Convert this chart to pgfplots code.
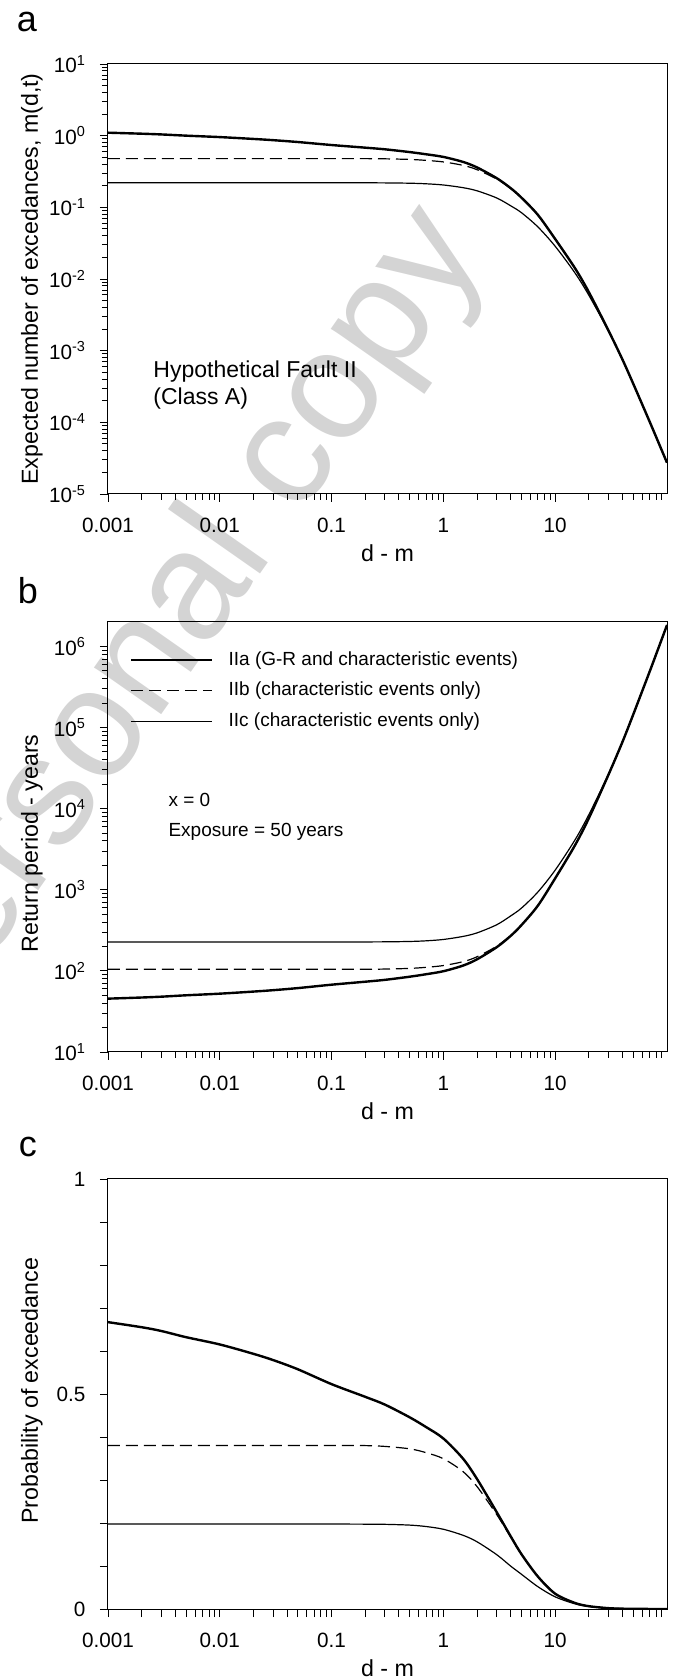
\documentclass[border=0pt]{standalone}
\usepackage{fontspec}
\setmainfont{Liberation Sans}
\usepackage{pgfplots}
\pgfplotsset{compat=1.18}

\pgfplotsset{
  every axis/.append style={
    scale only axis, width=559pt, height=430pt,
    xmode=log, log basis x=10, xmin=0.001, xmax=100,
    xtick={0.001,0.01,0.1,1,10},
    xticklabels={0.001,0.01,0.1,1,10},
    minor xtick={0.002,0.003,0.004,0.005,0.006,0.007,0.008,0.009,0.02,0.03,0.04,0.05,0.06,0.07,0.08,0.09,0.2,0.3,0.4,0.5,0.6,0.7,0.8,0.9,2,3,4,5,6,7,8,9,20,30,40,50,60,70,80,90},
    tick align=outside, xtick pos=left, ytick pos=left,
    major tick length=8pt, minor tick length=6pt,
    every tick/.style={black, line width=0.9pt},
    axis line style={line width=1pt},
    tick label style={font=\fontsize{20.7}{24}\selectfont},
    xticklabel style={yshift=-13pt},
    yticklabel style={xshift=-11pt},
    label style={font=\fontsize{23.2}{27}\selectfont},
    xlabel={d - m},
    xlabel style={at={(axis description cs:0.5,-0.137)}, anchor=center},
  },
}

\begin{document}
\begin{tikzpicture}
\useasboundingbox (0pt,0pt) rectangle (677pt,1679pt);
% watermark, one letter at a time along a slanted baseline
\begin{scope}[shift={(-76.8pt,623.8pt)}, rotate=55, transform shape,
  every node/.style={anchor=base west, inner sep=0pt, text=black!17, font=\fontsize{155}{155}\selectfont}]
\node at (0pt,0pt) {P};
\node at (103.4pt,0pt) {e};
\node at (189.6pt,0pt) {r};
\node at (241.2pt,0pt) {s};
\node at (318.7pt,0pt) {o};
\node at (404.9pt,0pt) {n};
\node at (491.0pt,0pt) {a};
\node at (577.2pt,0pt) {l};
\node at (654.7pt,0pt) {c};
\node at (732.2pt,0pt) {o};
\node at (818.4pt,0pt) {p};
\node at (904.6pt,0pt) {y};
\end{scope}

% panel letters
\node[font=\fontsize{36}{40}\selectfont] at (27pt,1657pt) {a};
\node[font=\fontsize{36}{40}\selectfont] at (28pt,1088pt) {b};
\node[font=\fontsize{36}{40}\selectfont] at (28pt,532pt) {c};

% ---------------- panel a ----------------
\begin{axis}[at={(108pt,1185pt)}, anchor=south west,
  ymode=log, log basis y=10, ymin=1e-5, ymax=10,
  ytick={1e-5,1e-4,1e-3,1e-2,1e-1,1,10},
  yticklabels={10\textsuperscript{-5},10\textsuperscript{-4},10\textsuperscript{-3},10\textsuperscript{-2},10\textsuperscript{-1},10\textsuperscript{0},10\textsuperscript{1}},
  minor ytick={2e-5,3e-5,4e-5,5e-5,6e-5,7e-5,8e-5,9e-5,2e-4,3e-4,4e-4,5e-4,6e-4,7e-4,8e-4,9e-4,0.002,0.003,0.004,0.005,0.006,0.007,0.008,0.009,0.02,0.03,0.04,0.05,0.06,0.07,0.08,0.09,0.2,0.3,0.4,0.5,0.6,0.7,0.8,0.9,2,3,4,5,6,7,8,9},
  ylabel={Expected number of excedances, m(d,t)},
  ylabel style={at={(axis description cs:-0.136,0.5)}, anchor=center},
]
\addplot[black, line width=2.4pt, smooth, tension=0.5] coordinates {(0.001,1.10) (0.002,1.065) (0.003,1.04) (0.005,1.00) (0.01,0.955) (0.02,0.90) (0.03,0.865) (0.05,0.815) (0.1,0.74) (0.2,0.68) (0.3,0.645) (0.5,0.59) (0.7,0.55) (1,0.505) (1.5,0.43) (2,0.36) (3,0.255) (4,0.185) (5,0.136) (7,0.0785) (10,0.0361) (15,0.01422) (20,0.00656) (30,0.0019) (40,7.5e-4) (50,3.43e-4) (60,1.78e-4) (70,1.02e-4) (80,6.24e-5) (100,2.73e-5)};
\addplot[black, line width=1.2pt, dash pattern=on 12pt off 6pt, smooth, tension=0.5] coordinates {(0.001,0.478) (0.01,0.478) (0.1,0.478) (0.2,0.478) (0.3,0.475) (0.5,0.466) (0.7,0.452) (1,0.43) (1.5,0.385) (2,0.335) (3,0.248) (4,0.183) (5,0.136) (7,0.0785) (10,0.0361) (15,0.01422) (20,0.00656) (30,0.0019) (40,7.5e-4) (50,3.43e-4) (60,1.78e-4) (70,1.02e-4) (80,6.24e-5) (100,2.73e-5)};
\addplot[black, line width=1.2pt, smooth, tension=0.5] coordinates {(0.001,0.22) (0.01,0.22) (0.1,0.22) (0.2,0.2198) (0.3,0.2192) (0.5,0.217) (0.7,0.213) (1,0.205) (1.5,0.188) (2,0.17) (3,0.135) (4,0.105) (5,0.084) (7,0.0533) (10,0.0286) (15,0.0122) (20,0.00593) (30,0.00187) (40,7.45e-4) (50,3.43e-4) (60,1.78e-4) (70,1.02e-4) (80,6.24e-5) (100,2.73e-5)};
\node[anchor=base west, font=\fontsize{23}{27}\selectfont] at (axis description cs:0.075,0.272) {Hypothetical Fault II};
\node[anchor=base west, font=\fontsize{23}{27}\selectfont] at (axis description cs:0.075,0.209) {(Class A)};
\end{axis}

% ---------------- panel b ----------------
\begin{axis}[at={(108pt,627pt)}, anchor=south west,
  ymode=log, log basis y=10, ymin=10, ymax=2e6,
  ytick={10,100,1000,10000,100000,1000000},
  yticklabels={10\textsuperscript{1},10\textsuperscript{2},10\textsuperscript{3},10\textsuperscript{4},10\textsuperscript{5},10\textsuperscript{6}},
  minor ytick={20,30,40,50,60,70,80,90,200,300,400,500,600,700,800,900,2000,3000,4000,5000,6000,7000,8000,9000,20000,30000,40000,50000,60000,70000,80000,90000,200000,300000,400000,500000,600000,700000,800000,900000},
  ylabel={Return period - years},
  ylabel style={at={(axis description cs:-0.136,0.485)}, anchor=center},
  legend cell align=left,
  legend image code/.code={\draw[#1] (0pt,0pt) -- (81pt,0pt); \path (96pt,0pt);},
  legend style={at={(axis description cs:0.0394,0.9326)}, anchor=north west, draw=none, fill=none,
    font=\fontsize{19}{22}\selectfont, row sep=12.5pt, inner sep=0pt,
    nodes={inner sep=0pt, text height=14pt, text depth=4pt}},
]
\addplot[black, line width=2.4pt, smooth, tension=0.5] coordinates {(0.001,45.45) (0.002,46.95) (0.003,48.08) (0.005,50.0) (0.01,52.36) (0.02,55.56) (0.03,57.80) (0.05,61.35) (0.1,67.57) (0.2,73.53) (0.3,77.52) (0.5,84.75) (0.7,90.91) (1,99.01) (1.5,116.28) (2,138.89) (3,196.08) (4,270.3) (5,367.6) (7,636.9) (10,1385) (15,3516) (20,7622) (30,26316) (40,66667) (50,145773) (60,280899) (70,490196) (80,801282) (100,1831502)};
\addlegendentry{IIa (G-R and characteristic events)}
\addplot[black, line width=1.2pt, dash pattern=on 12pt off 6pt, smooth, tension=0.5] coordinates {(0.001,104.6) (0.01,104.6) (0.1,104.6) (0.2,104.6) (0.3,105.3) (0.5,107.3) (0.7,110.6) (1,116.3) (1.5,129.9) (2,149.3) (3,201.6) (4,273.2) (5,367.6) (7,636.9) (10,1385) (15,3516) (20,7622) (30,26316) (40,66667) (50,145773) (60,280899) (70,490196) (80,801282) (100,1831502)};
\addlegendentry{IIb (characteristic events only)}
\addplot[black, line width=1.2pt, smooth, tension=0.5] coordinates {(0.001,227.3) (0.01,227.3) (0.1,227.3) (0.2,227.5) (0.3,228.1) (0.5,230.4) (0.7,234.7) (1,243.9) (1.5,266.0) (2,294.1) (3,370.4) (4,476.2) (5,595.2) (7,938.1) (10,1748) (15,4098) (20,8432) (30,26738) (40,67114) (50,145773) (60,280899) (70,490196) (80,801282) (100,1831502)};
\addlegendentry{IIc (characteristic events only)}
\node[anchor=base west, font=\fontsize{19}{22}\selectfont] at (axis description cs:0.102,0.570) {x = 0};
\node[anchor=base west, font=\fontsize{19}{22}\selectfont] at (axis description cs:0.102,0.500) {Exposure = 50 years};
\end{axis}

% ---------------- panel c ----------------
\begin{axis}[at={(108pt,70pt)}, anchor=south west,
  ymin=0, ymax=1,
  ytick={0,0.5,1}, yticklabels={0,0.5,1},
  minor ytick={0.1,0.2,0.3,0.4,0.6,0.7,0.8,0.9},
  minor tick length=8pt,
  ylabel={Probability of exceedance},
  ylabel style={at={(axis description cs:-0.136,0.5075)}, anchor=center},
]
\addplot[black, line width=2.4pt, smooth, tension=0.5] coordinates {(0.001,0.6671) (0.002,0.6553) (0.003,0.6465) (0.005,0.6321) (0.01,0.6152) (0.02,0.5934) (0.03,0.5789) (0.05,0.5574) (0.1,0.5229) (0.2,0.4934) (0.3,0.4753) (0.5,0.4457) (0.7,0.4231) (1,0.3965) (1.5,0.3495) (2,0.3023) (3,0.2251) (4,0.1689) (5,0.1272) (7,0.0755) (10,0.0355) (15,0.01412) (20,0.00654) (30,0.0019) (40,0.00075) (50,0.000343) (60,0.000178) (70,0.000102) (80,0.0000624) (100,0.0000273)};
\addplot[black, line width=1.2pt, dash pattern=on 12pt off 6pt, smooth, tension=0.5] coordinates {(0.001,0.3800) (0.01,0.3800) (0.1,0.3800) (0.2,0.3800) (0.3,0.3781) (0.5,0.3725) (0.7,0.3636) (1,0.3495) (1.5,0.3195) (2,0.2847) (3,0.2196) (4,0.1672) (5,0.1272) (7,0.0755) (10,0.0355) (15,0.01412) (20,0.00654) (30,0.0019) (40,0.00075) (50,0.000343) (60,0.000178) (70,0.000102) (80,0.0000624) (100,0.0000273)};
\addplot[black, line width=1.2pt, smooth, tension=0.5] coordinates {(0.001,0.1975) (0.01,0.1975) (0.1,0.1975) (0.2,0.1973) (0.3,0.1969) (0.5,0.1951) (0.7,0.1918) (1,0.1854) (1.5,0.1714) (2,0.1563) (3,0.1263) (4,0.0997) (5,0.0806) (7,0.0519) (10,0.0282) (15,0.01213) (20,0.00591) (30,0.00187) (40,0.000745) (50,0.000343) (60,0.000178) (70,0.000102) (80,0.0000624) (100,0.0000273)};
\end{axis}
\end{tikzpicture}
\end{document}
